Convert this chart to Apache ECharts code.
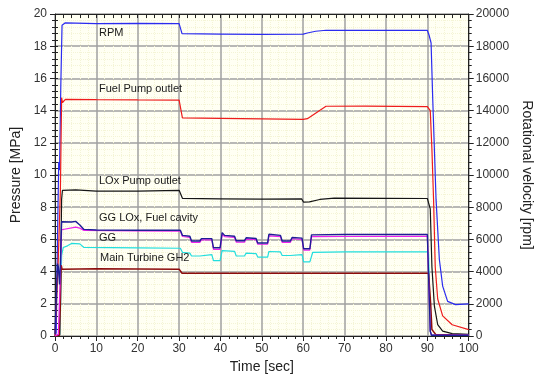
<!DOCTYPE html>
<html>
<head>
<meta charset="utf-8">
<script src="https://cdn.jsdelivr.net/npm/echarts@6/dist/echarts.min.js"></script>
<style>html,body{margin:0;padding:0;background:#fff}#c{width:542px;height:382px}</style>
</head>
<body>
<div id="c"></div>
<script>
// ---- data: [time sec, value] ----
var xTicks = [0, 10, 20, 30, 40, 50, 60, 70, 80, 90, 100];
var leftTicks = [0, 2, 4, 6, 8, 10, 12, 14, 16, 18, 20];
var rightTicks = [0, 2000, 4000, 6000, 8000, 10000, 12000, 14000, 16000, 18000, 20000];

var rpm = [[0,0],[0.3,200],[0.6,6000],[0.9,10800],[1.1,10300],[1.4,15500],[1.7,19300],[2.5,19450],[10,19400],[20,19420],[30,19400],[30.4,19350],[30.7,18780],[40,18750],[50,18730],[60,18750],[61,18820],[63,18930],[65.5,18990],[70,18980],[80,18990],[90,18980],[90.4,18700],[90.9,18200],[91.3,14700],[92.1,8500],[92.9,4750],[93.7,3100],[94.9,2150],[96.8,1950],[100,2000]];
var fuelPump = [[0,0],[0.4,0.1],[0.8,4.8],[1.1,4.9],[1.3,9],[1.6,14.8],[1.8,14.5],[2.5,14.7],[10,14.68],[20,14.66],[30,14.65],[30.4,14.6],[30.8,13.55],[40,13.52],[50,13.48],[60,13.45],[61,13.5],[65.5,14.27],[75,14.28],[90,14.25],[90.7,14.0],[91.1,11.6],[91.5,8.5],[91.9,4.3],[92.5,2.3],[93.7,1.25],[96,0.7],[100,0.4]];
var loxPump = [[0,0],[1.1,0.1],[1.3,3],[1.6,8.5],[1.8,9.05],[5,9.07],[10,9.0],[20,9.0],[30,9.05],[30.4,9.0],[30.8,8.55],[40,8.52],[50,8.5],[59.6,8.52],[60.1,8.31],[61.5,8.33],[64,8.48],[67.5,8.56],[80,8.55],[90,8.54],[90.7,7.9],[91.1,4.3],[91.7,1.85],[92.5,0.7],[93.7,0.3],[96,0.15],[100,0.1]];
var ggLox = [[0,0.1],[0.4,0.1],[0.6,4.5],[0.8,4.3],[1.1,3.2],[1.3,4.5],[1.6,7.1],[2,7.13],[4,7.08],[5,7.12],[6,6.9],[7,6.62],[10,6.58],[20,6.57],[30.3,6.57],[30.8,6.25],[32.6,6.2],[33,5.9],[35,5.9],[35.4,6.05],[37.9,6.05],[38.3,5.48],[39.9,5.48],[40.4,6.42],[41,6.25],[43.4,6.2],[43.8,5.92],[45.8,5.92],[46.2,6.1],[48.6,6.06],[49,5.78],[51.4,5.78],[51.7,6.32],[54.5,6.25],[54.9,5.9],[56.9,5.9],[57.3,6.12],[59.7,6.08],[60.1,5.42],[61.6,5.42],[62,6.28],[70,6.3],[90,6.31],[90.3,6.2],[90.7,0.3],[91,0.05],[100,0.05]];
var gg = [[0,0],[0.8,0.1],[1.2,3],[1.6,6.6],[2,6.72],[5,6.76],[6,6.7],[7,6.56],[20,6.53],[30.3,6.52],[30.8,6.18],[32.6,6.12],[33,5.82],[35,5.82],[35.4,5.97],[37.9,5.97],[38.3,5.38],[39.9,5.38],[40.4,6.3],[41,6.17],[43.4,6.12],[43.8,5.83],[45.8,5.83],[46.2,6.02],[48.6,5.98],[49,5.7],[51.4,5.7],[51.7,6.22],[54.5,6.17],[54.9,5.82],[56.9,5.82],[57.3,6.04],[59.7,6.0],[60.1,5.34],[61.6,5.34],[62,6.17],[70,6.18],[90,6.19],[90.3,6.1],[90.7,0.3],[91,0.05],[100,0.05]];
var turbineCyan = [[0,0],[1.2,0.1],[1.6,5.0],[2,5.5],[3,5.6],[4,5.75],[6,5.72],[7,5.5],[20,5.47],[30.3,5.45],[30.8,5.2],[32.6,5.15],[33,4.97],[35,4.97],[35.4,5.05],[37.9,5.05],[38.3,4.68],[39.9,4.68],[40.4,5.3],[43.4,5.26],[43.8,4.97],[45.8,4.97],[46.2,5.15],[48.6,5.12],[49,4.9],[51.4,4.9],[51.7,5.25],[54.5,5.22],[54.9,5.0],[56.9,5.0],[57.3,5.08],[59.7,5.06],[60.1,4.6],[61.6,4.6],[62.3,5.2],[70,5.22],[90,5.23],[90.3,5.1],[90.7,0.3],[91,0.05],[100,0.05]];
var turbineGH2 = [[0,0],[1.1,0.05],[1.3,2],[1.5,4.4],[1.7,4.15],[10,4.17],[20,4.16],[30,4.15],[30.3,4.12],[30.7,3.9],[45,3.9],[60,3.89],[75,3.9],[90.3,3.9],[90.5,3.8],[90.8,2],[91.1,0.4],[92,0.1],[100,0.05]];

var seriesNames = ['RPM','Fuel Pump outlet','LOx Pump outlet','Main Turbine cyan','Main Turbine GH2','GG','GG LOx, Fuel cavity'];
var annotationTexts = ['RPM','Fuel Pump outlet','LOx Pump outlet','GG LOx, Fuel cavity','GG','Main Turbine GH2'];

var FONT = "'Liberation Sans', Arial, sans-serif";
var chart = echarts.init(document.getElementById('c'), null, {renderer:'canvas'});

function line(name, data, color, yIdx, w) {
  return {name:name, type:'line', data:data, yAxisIndex:yIdx||0, xAxisIndex:0, showSymbol:false, symbol:'none',
    lineStyle:{color:color, width:w||1.2}, itemStyle:{color:color}, animation:false, silent:true, z:5};
}

var annPos = [[99,34],[99,90],[99,182],[99,219.5],[99,239],[100,259.5]];
var graphics = annotationTexts.map(function(t,i){
  return {type:'text', left:annPos[i][0], top:annPos[i][1]-7, silent:true, z:100,
    style:{text:t, fill:'#1a1a1a', font:'11px ' + FONT}};
});

var option = {
  backgroundColor:'#ffffff',
  animation:false,
  grid:{left:55, right:65, top:14, bottom:46, show:true, backgroundColor:'#fffff3', borderWidth:0},
  xAxis:[
    {type:'value', min:0, max:100, interval:10, position:'bottom',
     name:'Time [sec]', nameLocation:'middle', nameGap:18, nameTextStyle:{fontFamily:FONT, fontSize:14, color:'#222'},
     axisLine:{show:true, onZero:false, lineStyle:{color:'#222', width:1}},
     axisTick:{show:true, length:5, lineStyle:{color:'#222'}},
     minorTick:{show:true, splitNumber:5, length:3, lineStyle:{color:'#222'}},
     axisLabel:{fontFamily:FONT, fontSize:12, color:'#333', margin:7},
     splitLine:{show:true, lineStyle:{color:'#a0a0a0', width:1.5}},
     minorSplitLine:{show:true, lineStyle:{color:'#f4f4d6', width:1, type:'dotted'}}},
    {type:'value', min:0, max:100, interval:10, position:'top',
     axisLine:{show:true, onZero:false, lineStyle:{color:'#222', width:1}},
     axisTick:{show:true, inside:true, length:4, lineStyle:{color:'#222'}},
     minorTick:{show:true, splitNumber:5, length:4, lineStyle:{color:'#222'}},
     axisLabel:{show:false}, splitLine:{show:false}}
  ],
  yAxis:[
    {type:'value', min:0, max:20, interval:2, position:'left',
     name:'Pressure [MPa]', nameLocation:'middle', nameGap:29, nameRotate:90,
     nameTextStyle:{fontFamily:FONT, fontSize:14, color:'#222'},
     axisLine:{show:true, onZero:false, lineStyle:{color:'#222', width:1}},
     axisTick:{show:true, length:5, lineStyle:{color:'#222'}},
     minorTick:{show:false},
     axisLabel:{fontFamily:FONT, fontSize:12, color:'#333', margin:8},
     splitLine:{show:true, lineStyle:{color:'#a0a0a0', width:1.5}},
     minorSplitLine:{show:true, lineStyle:{color:'#f4f4d6', width:1, type:'dotted'}}},
    {type:'value', min:0, max:20000, interval:2000, position:'right',
     name:'Rotational velocity [rpm]', nameLocation:'middle', nameGap:44, nameRotate:-90,
     nameTextStyle:{fontFamily:FONT, fontSize:14, color:'#222'},
     axisLine:{show:true, onZero:false, lineStyle:{color:'#222', width:1}},
     axisTick:{show:true, length:5, lineStyle:{color:'#222'}},
     minorTick:{show:true, splitNumber:5, length:3, lineStyle:{color:'#222'}},
     axisLabel:{fontFamily:FONT, fontSize:12, color:'#333', margin:7, formatter:function(v){return String(v);}},
     splitLine:{show:false}},
    {type:'value', min:0, max:20, interval:2, position:'left',
     axisLine:{show:false}, axisTick:{show:true, inside:true, length:3, lineStyle:{color:'#222'}},
     minorTick:{show:true, splitNumber:5, length:3, lineStyle:{color:'#222'}},
     axisLabel:{show:false}, splitLine:{show:false}},
    {type:'value', min:0, max:20, interval:2, position:'right',
     axisLine:{show:false}, axisTick:{show:true, inside:true, length:4, lineStyle:{color:'#222'}},
     minorTick:{show:true, splitNumber:5, length:3, lineStyle:{color:'#222'}},
     axisLabel:{show:false}, splitLine:{show:false}}
  ],
  graphic: graphics,
  series:[
    line(seriesNames[0], rpm, '#2b2bf0', 1),
    line(seriesNames[1], fuelPump, '#ee1c1c', 0),
    line(seriesNames[2], loxPump, '#151515', 0),
    line(seriesNames[3], turbineCyan, '#22dede', 0),
    line(seriesNames[4], turbineGH2, '#8c0c0c', 0, 1.5),
    line(seriesNames[5], gg, '#ee22ee', 0),
    line(seriesNames[6], ggLox, '#1e1e96', 0, 1.4)
  ]
};
chart.setOption(option);
</script>
</body>
</html>
